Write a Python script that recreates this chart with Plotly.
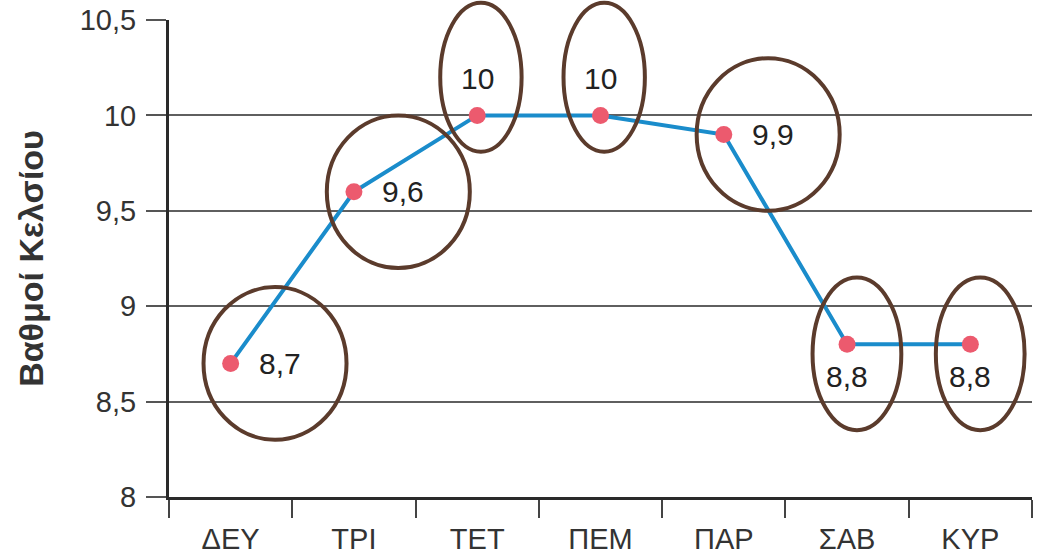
import plotly.graph_objects as go

days = ["ΔΕΥ", "ΤΡΙ", "ΤΕΤ", "ΠΕΜ", "ΠΑΡ", "ΣΑΒ", "ΚΥΡ"]
temps = [8.7, 9.6, 10, 10, 9.9, 8.8, 8.8]
label_side = ["right", "right", "top", "top", "right", "bottom", "bottom"]
y_ticks = [8, 8.5, 9, 9.5, 10, 10.5]
y_ticktext = ["8", "8,5", "9", "9,5", "10", "10,5"]
y_title = "Βαθμοί Κελσίου"

Y_MIN, Y_MAX = 8, 10.5


def fmt(v):
    return ("%g" % v).replace(".", ",")


labels = [fmt(v) for v in temps]

FONT = "Liberation Sans, Arial, sans-serif"

fig = go.Figure()
fig.add_trace(go.Scatter(
    x=days, y=temps, mode="lines+markers",
    line=dict(color="#1a8ccb", width=4),
    marker=dict(color="#ec5a6e", size=17),
    cliponaxis=False,
    showlegend=False,
    hoverinfo="skip",
))

# value labels
shift = {
    "right": dict(xanchor="left", yanchor="middle", xshift=26, yshift=0),
    "top": dict(xanchor="center", yanchor="bottom", xshift=0, yshift=18),
    "bottom": dict(xanchor="center", yanchor="top", xshift=0, yshift=-14),
}
for d, v, t, s in zip(days, temps, labels, label_side):
    fig.add_annotation(x=d, y=v, text=t, showarrow=False,
                       font=dict(size=30, color="#222222", family=FONT),
                       **shift[s])

# hand-drawn style circles around each labelled point
circ = {
    "right": (0.36, 0.58, 0.0, 0.40),
    "top": (0.03, 0.33, 0.20, 0.39),
    "bottom": (0.08, 0.36, -0.05, 0.40),
}
span = Y_MAX - Y_MIN
for i, (v, s) in enumerate(zip(temps, label_side)):
    dx, hw, dy, hh = circ[s]
    fig.add_shape(type="circle", xref="x", yref="paper",
                  x0=i + dx - hw, x1=i + dx + hw,
                  y0=(v + dy - hh - Y_MIN) / span, y1=(v + dy + hh - Y_MIN) / span,
                  line=dict(color="#5b3b2c", width=4), layer="above")

fig.update_layout(
    width=1039, height=555,
    margin=dict(l=169, r=7, t=20, b=58),
    paper_bgcolor="white", plot_bgcolor="white",
    font=dict(family=FONT, color="#333333"),
    separators=", ",
)
fig.update_xaxes(
    type="category", range=[-0.5, 6.5], automargin=False,
    showline=True, linecolor="#2a2a2a", linewidth=3,
    ticks="outside", tickson="boundaries", ticklen=18, tickwidth=2, tickcolor="#444444",
    showgrid=False, ticklabelstandoff=14, ticklabeloverflow="allow",
    tickfont=dict(size=29, color="#333333", family=FONT),
)
fig.update_yaxes(
    range=[Y_MIN, Y_MAX], tickvals=y_ticks, ticktext=y_ticktext, automargin=False,
    showline=True, linecolor="#2a2a2a", linewidth=3,
    ticks="outside", ticklen=20, tickwidth=1.5, tickcolor="#555555",
    showgrid=True, gridcolor="#5f5f5f", gridwidth=1.5,
    zeroline=False, ticklabelstandoff=4, ticklabeloverflow="allow",
    tickfont=dict(size=29, color="#333333", family=FONT),
    title=dict(text="<b>" + y_title + "</b>", standoff=26,
               font=dict(size=34, color="#333333", family=FONT)),
)

fig.write_html("out.html", config={"displayModeBar": False},
               post_script="document.body.style.margin='0';document.body.style.overflow='hidden';")
